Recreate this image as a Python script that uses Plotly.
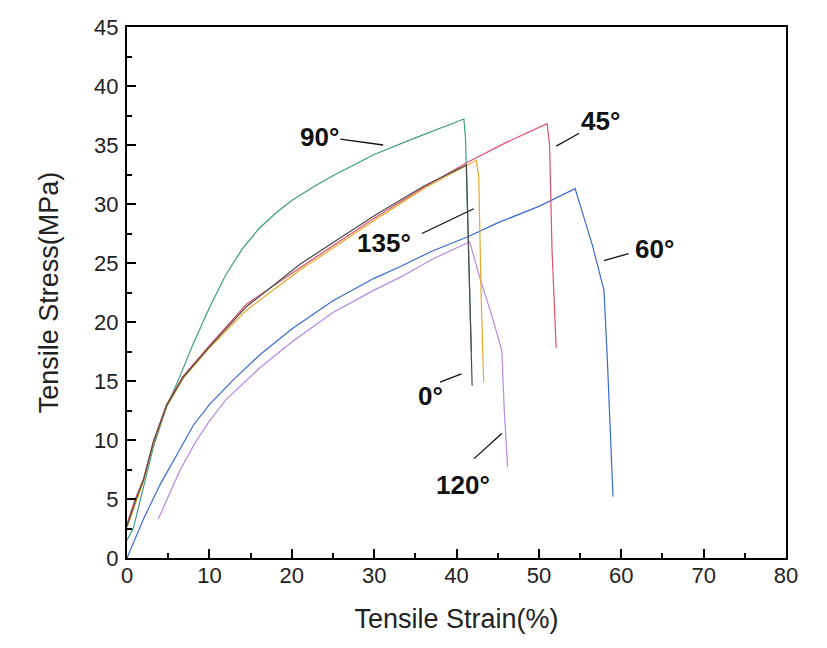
import plotly.graph_objects as go

# ---- data (strain %, stress MPa) ----
strain_0 = [0, 1, 2, 3.2, 4.8, 6.8, 10, 14.5, 21, 30, 36, 41.2, 41.5, 41.9]
stress_0 = [2.7, 4.8, 6.6, 9.8, 12.9, 15.3, 17.9, 21.3, 24.9, 29.0, 31.5, 33.3, 25, 14.6]

strain_45 = [0, 1, 2, 3.2, 4.8, 6.8, 10, 14.5, 21, 30, 36, 41.5, 46, 51.0, 51.3, 51.6, 52.1]
stress_45 = [2.9, 5.0, 6.7, 9.9, 13.0, 15.4, 18.0, 21.5, 24.6, 28.8, 31.4, 33.6, 35.2, 36.8, 35.0, 26.0, 17.8]

strain_135 = [0, 1, 2, 3.2, 4.8, 6.8, 10, 14.5, 21, 30, 36, 42.4, 42.7, 43.0, 43.3]
stress_135 = [2.6, 4.6, 6.5, 9.7, 12.8, 15.2, 17.8, 21.0, 24.4, 28.6, 31.3, 33.7, 32.3, 22.0, 14.9]

strain_90 = [0, 0.8, 2, 3.2, 4.8, 6.4, 8, 10, 12, 14, 16, 18, 20, 22.5, 25, 30, 35, 40.9, 41.1, 41.5, 41.8]
stress_90 = [1.5, 2.6, 6.0, 9.4, 12.8, 15.35, 18.1, 21.2, 24.0, 26.2, 27.9, 29.2, 30.3, 31.4, 32.4, 34.2, 35.6, 37.2, 35.5, 25.0, 17.5]

strain_60 = [0, 2, 4, 5.6, 8.06, 10, 12.9, 16.1, 20, 25, 30, 33.2, 37, 41.3, 45, 50, 54.4, 56.5, 57.9, 58.3, 58.7, 59.0]
stress_60 = [0, 3.3, 6.2, 8.2, 11.25, 13.0, 15.1, 17.2, 19.4, 21.8, 23.7, 24.7, 26.0, 27.2, 28.4, 29.8, 31.3, 26.5, 22.7, 17.0, 11.0, 5.2]

strain_120 = [3.8, 5, 6.4, 8.3, 10, 12, 14.5, 16.1, 20, 25, 30, 33.2, 37, 41.6, 42.9, 44.3, 45.5, 45.8, 46.2]
stress_120 = [3.3, 5.2, 7.4, 9.8, 11.6, 13.4, 15.1, 16.1, 18.3, 20.8, 22.7, 23.8, 25.3, 26.8, 23.6, 20.5, 17.6, 12.5, 7.7]

# label text, label position, leader line start/end
labels = ["90°", "45°", "60°", "135°", "0°", "120°"]
label_x = [23.4, 57.5, 64.0, 31.2, 36.9, 40.8]
label_y = [35.7, 37.0, 26.2, 26.7, 13.7, 6.2]
lead_x0 = [25.9, 52.1, 57.9, 35.8, 38.0, 42.1]
lead_y0 = [35.5, 34.9, 25.2, 27.5, 14.9, 8.4]
lead_x1 = [31.1, 54.9, 60.9, 42.1, 40.6, 45.5]
lead_y1 = [35.0, 36.0, 25.8, 29.6, 15.6, 10.55]

FONT = "Liberation Sans, Arial, sans-serif"

fig = go.Figure()

series = [
    (strain_90, stress_90, "#3f9c7e", "90°"),
    (strain_60, stress_60, "#3b6bd0", "60°"),
    (strain_120, stress_120, "#b68ae0", "120°"),
    (strain_45, stress_45, "#e0506a", "45°"),
    (strain_135, stress_135, "#e8a82a", "135°"),
    (strain_0, stress_0, "#4a4a4a", "0°"),
]

for xs, ys, color, name in series:
    fig.add_trace(
        go.Scatter(
            x=xs,
            y=ys,
            mode="lines",
            name=name,
            line=dict(color=color, width=1.2),
        )
    )

for i, text in enumerate(labels):
    fig.add_annotation(
        x=label_x[i],
        y=label_y[i],
        text="<b>" + text + "</b>",
        showarrow=False,
        font=dict(family=FONT, size=26, color="#111111"),
    )
    fig.add_shape(
        type="line",
        x0=lead_x0[i],
        y0=lead_y0[i],
        x1=lead_x1[i],
        y1=lead_y1[i],
        line=dict(color="#111111", width=1.3),
    )

axis_common = dict(
    showgrid=False,
    zeroline=False,
    showline=True,
    linecolor="#000000",
    linewidth=2,
    mirror=True,
    ticks="inside",
    ticklen=9,
    tickwidth=1.5,
    tickcolor="#000000",
    automargin=False,
    tickfont=dict(family=FONT, size=22, color="#222222"),
)

fig.update_xaxes(
    range=[0, 80],
    dtick=10,
    ticklabelstandoff=-3,
    minor=dict(ticks="inside", ticklen=5, dtick=5, tickcolor="#000000", tickwidth=1.5),
    title=dict(text="Tensile Strain(%)", font=dict(family=FONT, size=27, color="#222222"), standoff=22),
    **axis_common,
)

fig.update_yaxes(
    range=[0, 45],
    dtick=5,
    ticklabelstandoff=2,
    minor=dict(ticks="inside", ticklen=5, dtick=2.5, tickcolor="#000000", tickwidth=1.5),
    title=dict(text="Tensile Stress(MPa)", font=dict(family=FONT, size=27, color="#222222"), standoff=28),
    **axis_common,
)

# the page body adds an 8px offset, so the margins are shifted to match
fig.update_layout(
    width=827,
    height=648,
    showlegend=False,
    plot_bgcolor="white",
    paper_bgcolor="white",
    margin=dict(l=119, r=49, t=19, b=98),
)

fig.write_html("out.html")
